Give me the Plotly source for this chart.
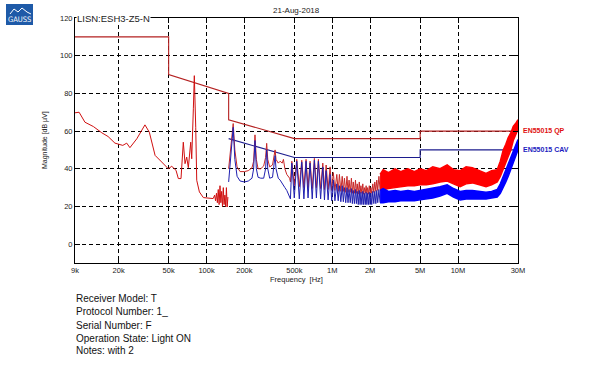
import plotly.graph_objects as go

# ---------------- data ----------------
tick_vals = [9e3, 2e4, 5e4, 1e5, 2e5, 5e5, 1e6, 2e6, 5e6, 1e7, 3e7]
tick_text = ['9k', '20k', '50k', '100k', '200k', '500k', '1M', '2M', '5M', '10M', '30M']
y_ticks = [0, 20, 40, 60, 80, 100, 120]

# limit lines
qp_f = [9e3, 5e4, 5e4, 1.5e5, 1.5e5, 5e5, 5e5, 5e6, 5e6, 3e7]
qp_db = [110, 110, 90, 80, 66, 56, 56, 56, 60, 60]
av_f = [1.5e5, 5e5, 5e5, 5e6, 5e6, 3e7]
av_db = [56, 46, 46, 46, 50, 50]

# low band measurement (9k - 150k)
low_f = [9000, 9700, 10800, 12600, 14700, 16500, 18700, 21600, 23200, 24600, 27900, 32400,
         35100, 39000, 44000, 49700, 52900, 57200, 59700, 62700, 65400, 67500, 69600, 71700,
         74900, 76300, 78600, 80000, 82100, 83600, 87800, 94400, 113000, 116000, 118000,
         120000, 122000, 124000, 126000, 128000, 130000, 132000, 134000, 136000, 138000,
         140000, 142000, 144000, 146000, 148000]
low_db = [69.7, 70, 64.7, 62.4, 59.1, 57.1, 53.6, 52.4, 53.6, 51.2, 55.9, 63.3,
          59.4, 47.1, 43.6, 40, 41.3, 39.2, 34.8, 34.8, 54.1, 42.7, 46.2, 40.6,
          54.1, 45.3, 71.8, 89.4, 62, 33.9, 27.7, 24.7, 24.2, 26, 23,
          27, 22, 29, 21, 31, 22, 28, 20, 30, 21,
          26, 20, 30, 19.7, 25]

# mid band QP trace (150k - 2.4M)
qp_mid_f = [150e3, 156e3, 163e3, 168e3, 175e3, 185e3, 200e3, 215e3, 230e3, 237e3, 243e3, 249e3,
            257e3, 270e3, 285e3, 295e3, 301e3, 307e3, 318e3, 335e3, 346e3, 351e3, 357e3, 372e3,
            385e3, 400e3, 409e3, 420e3, 435e3, 446e3, 458e3,
            465e3, 477e3, 499e3, 522e3, 547e3, 572e3, 595e3, 619e3, 642e3, 666e3, 693e3, 721e3,
            748e3, 776e3, 808e3, 841e3, 867e3, 894e3, 927e3, 961e3, 990e3, 1.02e6, 1.05e6,
            1.087e6, 1.115e6, 1.14e6, 1.17e6, 1.2e6, 1.225e6, 1.25e6, 1.28e6, 1.31e6, 1.335e6,
            1.36e6, 1.39e6, 1.42e6, 1.445e6, 1.47e6, 1.5e6, 1.53e6, 1.555e6, 1.58e6, 1.61e6,
            1.64e6, 1.665e6, 1.69e6, 1.72e6, 1.75e6, 1.775e6, 1.8e6, 1.83e6, 1.86e6, 1.885e6,
            1.91e6, 1.94e6, 1.97e6, 2.0e6, 2.03e6, 2.06e6, 2.1e6, 2.14e6, 2.18e6, 2.22e6,
            2.26e6, 2.3e6, 2.35e6, 2.4e6]
qp_mid_db = [40, 50, 64, 50, 41, 38.5, 38.5, 39, 40.5, 44, 58, 45,
             40, 40, 41.5, 46, 53.5, 45, 41, 42, 47, 50, 45, 43,
             44, 43, 45, 40, 37, 36, 35,
             33, 44, 31, 45, 30.5, 44.5, 30, 45, 30, 44, 29.5, 45.5,
             30, 45, 29.5, 43, 29, 42, 29, 41, 28.5, 38, 28.5,
             37, 28, 37, 28, 36, 28, 35, 27.5, 36, 27.5,
             34, 27.5, 35, 27, 33, 27, 34, 27, 32, 26.5,
             33, 27, 31, 27, 32, 26.5, 30, 27, 31, 27,
             30, 26.5, 31, 27, 30, 27, 32, 27.5, 33, 28,
             34, 28.5, 36, 29]

# mid band CAV trace (150k - 2.4M)
av_mid_db = [33, 45, 62, 45, 36, 33.5, 33, 33.5, 35, 40, 55, 40,
             35.5, 35, 35, 40, 50, 40, 35, 35.5, 42, 47, 40, 35,
             34, 32, 31, 30, 28.5, 27, 25,
             24, 43, 24.5, 44, 24, 43.5, 24, 44, 24.5, 43, 24, 44.5,
             24.5, 44, 24, 41, 23.5, 39, 23.5, 37, 23, 34, 23,
             32, 23, 31, 22.5, 31, 22.5, 30, 22, 30, 22,
             29, 22, 29.5, 21.5, 28.5, 21.5, 29, 21.5, 28, 21,
             28.5, 21, 27.5, 21, 28, 21, 27, 21, 27.5, 21,
             27, 21, 27.5, 21, 27, 21, 28, 21.5, 28, 21.5,
             28.5, 22, 29, 22]

# high band envelopes (2.4M - 30M)
hi_f = [2.4e6, 2.54e6, 2.8e6, 3.16e6, 3.5e6, 4.0e6, 4.5e6, 5.0e6, 5.6e6, 6.3e6, 7.2e6, 8.2e6,
        9.2e6, 10.4e6, 11.6e6, 13e6, 14.8e6, 16.7e6, 18.5e6, 20.5e6, 21.7e6, 22.9e6, 24e6,
        25.1e6, 26.3e6, 27.5e6, 28.7e6, 30e6]
qp_hi_up = [37, 39.5, 38, 40, 38.5, 40, 38.5, 40, 39, 41, 40, 42,
            39.5, 39, 41, 40.5, 39, 37.5, 39, 39.5, 44, 50, 53,
            56.5, 59, 62.5, 64, 66]
qp_hi_lo = [28.5, 29, 29.5, 30, 30.5, 31, 31, 31.5, 31.5, 32, 33, 33.5,
            32, 30.5, 32, 32.5, 31.5, 30.5, 31.5, 33, 36, 40, 43,
            46, 50, 55, 58, 61]
av_hi_up = [28.5, 29.5, 28, 28.5, 28, 28.5, 28, 28.5, 29, 29.5, 30.5, 31.5,
            29.5, 28, 28.5, 28.5, 28, 27.5, 28, 29, 32, 36, 39,
            42, 45.5, 49, 52, 55.5]
av_hi_lo = [22, 22, 22.5, 22.5, 23, 23, 23, 23.5, 24, 24.5, 25.5, 27,
            25, 23.5, 24, 24, 24, 24, 24.5, 25, 27, 30, 33,
            36, 39.5, 43, 46.5, 50]

info_lines = ['Receiver Model: T', 'Protocol Number: 1_', 'Serial Number: F',
              'Operation State: Light ON', 'Notes: with 2']

# ---------------- layout geometry ----------------
W, H = 598, 367
L, R, T, B = 75, 518, 18, 263


def px(x):
    return (x - L) / (R - L)


def py(y):
    return (B - y) / (B - T)


RED_LIM = '#b42020'
BLUE_LIM = '#1c1c8e'

fig = go.Figure()

# limits
fig.add_trace(go.Scatter(x=qp_f, y=qp_db, mode='lines', line=dict(color=RED_LIM, width=1.1),
                         hoverinfo='skip'))
fig.add_trace(go.Scatter(x=av_f, y=av_db, mode='lines', line=dict(color=BLUE_LIM, width=1.1),
                         hoverinfo='skip'))

# low band
fig.add_trace(go.Scatter(x=low_f, y=low_db, mode='lines', line=dict(color='#d01010', width=1)))

# mid band thin traces
fig.add_trace(go.Scatter(x=qp_mid_f, y=qp_mid_db, mode='lines', line=dict(color='#c82828', width=1)))
fig.add_trace(go.Scatter(x=qp_mid_f, y=av_mid_db, mode='lines', line=dict(color='#2020b0', width=1)))

# high band filled traces
fig.add_trace(go.Scatter(x=hi_f, y=qp_hi_lo, mode='lines', line=dict(color='#ff0000', width=1.5)))
fig.add_trace(go.Scatter(x=hi_f, y=qp_hi_up, mode='lines', line=dict(color='#ff0000', width=1.5),
                         fill='tonexty', fillcolor='#ff0000'))
fig.add_trace(go.Scatter(x=hi_f, y=av_hi_lo, mode='lines', line=dict(color='#0000ff', width=1.5)))
fig.add_trace(go.Scatter(x=hi_f, y=av_hi_up, mode='lines', line=dict(color='#0000ff', width=1.5),
                         fill='tonexty', fillcolor='#0000ff'))

FONT = 'Liberation Sans, Arial, sans-serif'

annotations = [
    dict(text='21-Aug-2018', x=0.5, y=py(10), xref='paper', yref='paper', showarrow=False,
         font=dict(size=8, color='#222'), xanchor='center', yanchor='middle'),
    dict(text='LISN:ESH3-Z5-N', x=px(76), y=py(18), xref='paper', yref='paper', showarrow=False,
         font=dict(size=9.5, color='#222'), xanchor='left', yanchor='middle', bgcolor='white',
         borderpad=0),
    dict(text='<b>EN55015 QP</b>', x=px(521), y=py(131), xref='paper', yref='paper', showarrow=False,
         font=dict(size=7, color='#e01010'), xanchor='left', yanchor='middle'),
    dict(text='<b>EN55015 CAV</b>', x=px(521), y=py(149), xref='paper', yref='paper', showarrow=False,
         font=dict(size=7, color='#1c1cc0'), xanchor='left', yanchor='middle'),
    dict(text='Frequency  [Hz]', x=0.5, y=py(279), xref='paper', yref='paper', showarrow=False,
         font=dict(size=7.5, color='#222'), xanchor='center', yanchor='middle'),
    dict(text='Magnitude [dB µV]', x=px(45), y=py(140), xref='paper', yref='paper', showarrow=False,
         font=dict(size=7, color='#222'), xanchor='center', yanchor='middle', textangle=-90),
    dict(text='GAUSS', x=px(19.5), y=py(19.5), xref='paper', yref='paper', showarrow=False,
         font=dict(size=7.5, color='white', family='DejaVu Sans Condensed, sans-serif'),
         xanchor='center', yanchor='middle'),
]
line_y = [298, 311.5, 325, 338, 351]
for t, yy in zip(info_lines, line_y):
    annotations.append(dict(text=t, x=px(74), y=py(yy), xref='paper', yref='paper', showarrow=False,
                            font=dict(size=10, color='#111'), xanchor='left', yanchor='middle'))

# logo shapes
logo_pts = [(10, 14), (14, 9), (18, 12), (22, 8), (27, 12), (31, 14)]
path = 'M ' + ' L '.join(f'{px(a)},{py(b)}' for a, b in logo_pts)
shapes = [
    dict(type='rect', xref='paper', yref='paper', x0=px(6), x1=px(33), y0=py(25), y1=py(4),
         fillcolor='#1e5aa8', line=dict(width=0), layer='above'),
    dict(type='path', xref='paper', yref='paper', path=path, line=dict(color='white', width=1),
         layer='above'),
]

fig.update_layout(
    width=W, height=H,
    margin=dict(l=L, r=W - R, t=T, b=H - B, autoexpand=False),
    paper_bgcolor='white', plot_bgcolor='white',
    showlegend=False,
    font=dict(family=FONT, size=8, color='#222'),
    annotations=annotations,
    shapes=shapes,
)
fig.update_xaxes(
    type='log', range=[3.954242509, 7.477121255],
    tickvals=tick_vals, ticktext=tick_text, tickfont=dict(size=7.5),
    showgrid=True, gridcolor='black', griddash='4px,3px', gridwidth=1,
    showline=True, linecolor='black', linewidth=1, mirror='ticks',
    ticks='inside', ticklen=5, tickcolor='black', zeroline=False, automargin=False,
)
fig.update_yaxes(
    range=[-10, 120], tickvals=y_ticks, tickfont=dict(size=7.5),
    showgrid=True, gridcolor='black', griddash='4px,3px', gridwidth=1,
    showline=True, linecolor='black', linewidth=1, mirror='ticks',
    ticks='inside', ticklen=5, tickcolor='black', zeroline=False, automargin=False,
)

fig.write_html('out.html', config={'displayModeBar': False},
               post_script="document.body.style.margin='0';document.body.style.padding='0';")
